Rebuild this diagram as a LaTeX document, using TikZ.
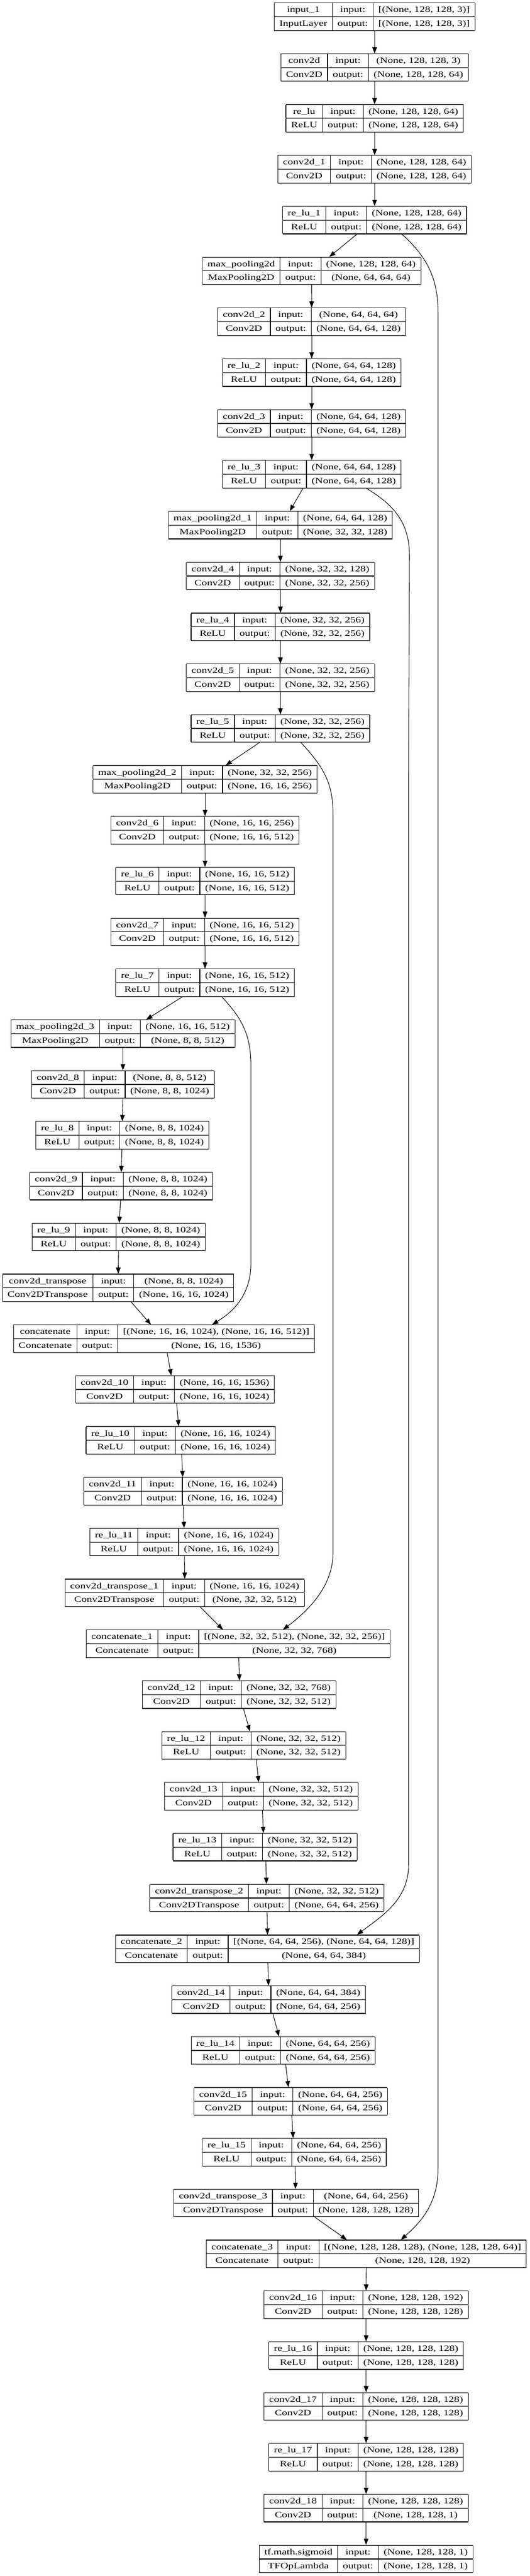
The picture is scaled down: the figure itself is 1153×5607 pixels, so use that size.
\documentclass[tikz,border=0pt]{standalone}
\usepackage{fontspec}
\setmainfont{Liberation Serif}[FakeStretch=1.315]
\usetikzlibrary{arrows.meta}
\setlength{\tabcolsep}{11.3pt}
\setlength{\arrayrulewidth}{1.33pt}
\renewcommand{\arraystretch}{0}
\newcommand{\rstrut}{\rule[-9.05pt]{0pt}{28.65pt}}
\newcommand{\rec}[7]{\node[recbox] (#1) at (#2,{36.35+110.67*#3}) {\begin{tabular}{|c|c|c|}\hline\rstrut #4 & input: & #6\\\hline\rstrut #5 & output: & #7\\\hline\end{tabular}};}
\newcommand{\edgeab}[4]{\draw[arr] ([xshift=#2pt]#1.south) -- ([xshift=#4pt]#3.north);}
\begin{document}
\begin{tikzpicture}[x=1pt,y=-1pt,
  recbox/.style={inner sep=0pt, outer sep=0pt, font=\fontsize{17.8}{20}\selectfont},
  arr/.style={line width=1.2pt, -{Triangle[length=13.5pt,width=10pt]}}]
\fill[white] (0,0) rectangle (1153,5607);
\useasboundingbox (0,0) rectangle (1153,5607);
\rec{n0}{815.6}{0}{input\_1}{InputLayer}{[(None, 128, 128, 3)]}{[(None, 128, 128, 3)]}
\rec{n1}{815.6}{1}{conv2d}{Conv2D}{(None, 128, 128, 3)}{(None, 128, 128, 64)}
\rec{n2}{815.6}{2}{re\_lu}{ReLU}{(None, 128, 128, 64)}{(None, 128, 128, 64)}
\rec{n3}{815.6}{3}{conv2d\_1}{Conv2D}{(None, 128, 128, 64)}{(None, 128, 128, 64)}
\rec{n4}{815.6}{4}{re\_lu\_1}{ReLU}{(None, 128, 128, 64)}{(None, 128, 128, 64)}
\rec{n5}{678.4}{5}{max\_pooling2d}{MaxPooling2D}{(None, 128, 128, 64)}{(None, 64, 64, 64)}
\rec{n6}{678.6}{6}{conv2d\_2}{Conv2D}{(None, 64, 64, 64)}{(None, 64, 64, 128)}
\rec{n7}{678.6}{7}{re\_lu\_2}{ReLU}{(None, 64, 64, 128)}{(None, 64, 64, 128)}
\rec{n8}{678.6}{8}{conv2d\_3}{Conv2D}{(None, 64, 64, 128)}{(None, 64, 64, 128)}
\rec{n9}{678.6}{9}{re\_lu\_3}{ReLU}{(None, 64, 64, 128)}{(None, 64, 64, 128)}
\rec{n10}{610.4}{10}{max\_pooling2d\_1}{MaxPooling2D}{(None, 64, 64, 128)}{(None, 32, 32, 128)}
\rec{n11}{610.6}{11}{conv2d\_4}{Conv2D}{(None, 32, 32, 128)}{(None, 32, 32, 256)}
\rec{n12}{610.6}{12}{re\_lu\_4}{ReLU}{(None, 32, 32, 256)}{(None, 32, 32, 256)}
\rec{n13}{610.6}{13}{conv2d\_5}{Conv2D}{(None, 32, 32, 256)}{(None, 32, 32, 256)}
\rec{n14}{610.6}{14}{re\_lu\_5}{ReLU}{(None, 32, 32, 256)}{(None, 32, 32, 256)}
\rec{n15}{446.4}{15}{max\_pooling2d\_2}{MaxPooling2D}{(None, 32, 32, 256)}{(None, 16, 16, 256)}
\rec{n16}{446.4}{16}{conv2d\_6}{Conv2D}{(None, 16, 16, 256)}{(None, 16, 16, 512)}
\rec{n17}{446.6}{17}{re\_lu\_6}{ReLU}{(None, 16, 16, 512)}{(None, 16, 16, 512)}
\rec{n18}{446.4}{18}{conv2d\_7}{Conv2D}{(None, 16, 16, 512)}{(None, 16, 16, 512)}
\rec{n19}{446.6}{19}{re\_lu\_7}{ReLU}{(None, 16, 16, 512)}{(None, 16, 16, 512)}
\rec{n20}{267.6}{20}{max\_pooling2d\_3}{MaxPooling2D}{(None, 16, 16, 512)}{(None, 8, 8, 512)}
\rec{n21}{267.6}{21}{conv2d\_8}{Conv2D}{(None, 8, 8, 512)}{(None, 8, 8, 1024)}
\rec{n22}{266.5}{22}{re\_lu\_8}{ReLU}{(None, 8, 8, 1024)}{(None, 8, 8, 1024)}
\rec{n23}{263.6}{23}{conv2d\_9}{Conv2D}{(None, 8, 8, 1024)}{(None, 8, 8, 1024)}
\rec{n24}{258.5}{24}{re\_lu\_9}{ReLU}{(None, 8, 8, 1024)}{(None, 8, 8, 1024)}
\rec{n25}{257}{25}{conv2d\_transpose}{Conv2DTranspose}{(None, 8, 8, 1024)}{(None, 16, 16, 1024)}
\rec{n26}{357}{26}{concatenate}{Concatenate}{[(None, 16, 16, 1024), (None, 16, 16, 512)]}{(None, 16, 16, 1536)}
\rec{n27}{380.9}{27}{conv2d\_10}{Conv2D}{(None, 16, 16, 1536)}{(None, 16, 16, 1024)}
\rec{n28}{393.4}{28}{re\_lu\_10}{ReLU}{(None, 16, 16, 1024)}{(None, 16, 16, 1024)}
\rec{n29}{398.5}{29}{conv2d\_11}{Conv2D}{(None, 16, 16, 1024)}{(None, 16, 16, 1024)}
\rec{n30}{401.1}{30}{re\_lu\_11}{ReLU}{(None, 16, 16, 1024)}{(None, 16, 16, 1024)}
\rec{n31}{402.2}{31}{conv2d\_transpose\_1}{Conv2DTranspose}{(None, 16, 16, 1024)}{(None, 32, 32, 512)}
\rec{n32}{518.4}{32}{concatenate\_1}{Concatenate}{[(None, 32, 32, 512), (None, 32, 32, 256)]}{(None, 32, 32, 768)}
\rec{n33}{520.6}{33}{conv2d\_12}{Conv2D}{(None, 32, 32, 768)}{(None, 32, 32, 512)}
\rec{n34}{552.6}{34}{re\_lu\_12}{ReLU}{(None, 32, 32, 512)}{(None, 32, 32, 512)}
\rec{n35}{568.8}{35}{conv2d\_13}{Conv2D}{(None, 32, 32, 512)}{(None, 32, 32, 512)}
\rec{n36}{577.2}{36}{re\_lu\_13}{ReLU}{(None, 32, 32, 512)}{(None, 32, 32, 512)}
\rec{n37}{580.9}{37}{conv2d\_transpose\_2}{Conv2DTranspose}{(None, 32, 32, 512)}{(None, 64, 64, 256)}
\rec{n38}{582.4}{38}{concatenate\_2}{Concatenate}{[(None, 64, 64, 256), (None, 64, 64, 128)]}{(None, 64, 64, 384)}
\rec{n39}{585}{39}{conv2d\_14}{Conv2D}{(None, 64, 64, 384)}{(None, 64, 64, 256)}
\rec{n40}{616.5}{40}{re\_lu\_14}{ReLU}{(None, 64, 64, 256)}{(None, 64, 64, 256)}
\rec{n41}{633.1}{41}{conv2d\_15}{Conv2D}{(None, 64, 64, 256)}{(None, 64, 64, 256)}
\rec{n42}{640.8}{42}{re\_lu\_15}{ReLU}{(None, 64, 64, 256)}{(None, 64, 64, 256)}
\rec{n43}{644.9}{43}{conv2d\_transpose\_3}{Conv2DTranspose}{(None, 64, 64, 256)}{(None, 128, 128, 128)}
\rec{n44}{797.4}{44}{concatenate\_3}{Concatenate}{[(None, 128, 128, 128), (None, 128, 128, 64)]}{(None, 128, 128, 192)}
\rec{n45}{797.1}{45}{conv2d\_16}{Conv2D}{(None, 128, 128, 192)}{(None, 128, 128, 128)}
\rec{n46}{797.1}{46}{re\_lu\_16}{ReLU}{(None, 128, 128, 128)}{(None, 128, 128, 128)}
\rec{n47}{797.1}{47}{conv2d\_17}{Conv2D}{(None, 128, 128, 128)}{(None, 128, 128, 128)}
\rec{n48}{797.1}{48}{re\_lu\_17}{ReLU}{(None, 128, 128, 128)}{(None, 128, 128, 128)}
\rec{n49}{797.1}{49}{conv2d\_18}{Conv2D}{(None, 128, 128, 128)}{(None, 128, 128, 1)}
\rec{n50}{797.1}{50}{tf.math.sigmoid}{TFOpLambda}{(None, 128, 128, 1)}{(None, 128, 128, 1)}
% main chain
\edgeab{n0}{0}{n1}{0}
\edgeab{n1}{0}{n2}{0}
\edgeab{n2}{0}{n3}{0}
\edgeab{n3}{0}{n4}{0}
\edgeab{n4}{-38.4}{n5}{38.6}
\edgeab{n5}{0}{n6}{0}
\edgeab{n6}{0}{n7}{0}
\edgeab{n7}{0}{n8}{0}
\edgeab{n8}{0}{n9}{0}
\edgeab{n9}{-19}{n10}{20.5}
\edgeab{n10}{0}{n11}{0}
\edgeab{n11}{0}{n12}{0}
\edgeab{n12}{0}{n13}{0}
\edgeab{n13}{0}{n14}{0}
\edgeab{n14}{-45.9}{n15}{45.1}
\edgeab{n15}{0}{n16}{0}
\edgeab{n16}{0}{n17}{-0.2}
\edgeab{n17}{-0.2}{n18}{0}
\edgeab{n18}{0}{n19}{-0.2}
\edgeab{n19}{-49.6}{n20}{50.8}
\edgeab{n20}{0}{n21}{0}
\edgeab{n21}{0}{n22}{-0.3}
\edgeab{n22}{-1.1}{n23}{0.4}
\edgeab{n23}{-1.1}{n24}{1.1}
\edgeab{n24}{-0.4}{n25}{0.4}
\edgeab{n25}{28.3}{n26}{-28.3}
\edgeab{n26}{7}{n27}{-8.1}
\edgeab{n27}{3.7}{n28}{-4.4}
\edgeab{n28}{2.2}{n29}{-0.7}
\edgeab{n29}{0.8}{n30}{-0.4}
\edgeab{n30}{0.4}{n31}{0}
\edgeab{n31}{33.8}{n32}{-33.1}
\edgeab{n32}{1.5}{n33}{0.7}
\edgeab{n33}{9.5}{n34}{-8.5}
\edgeab{n34}{5.5}{n35}{-5.6}
\edgeab{n35}{2.5}{n36}{-3.7}
\edgeab{n36}{1.5}{n37}{-0.8}
\edgeab{n37}{0.7}{n38}{0}
\edgeab{n38}{0.7}{n39}{-0.4}
\edgeab{n39}{9.1}{n40}{-9.1}
\edgeab{n40}{5.5}{n41}{-5.2}
\edgeab{n41}{2.2}{n42}{-2.6}
\edgeab{n42}{1.8}{n43}{-1.5}
\edgeab{n43}{40.4}{n44}{-42.3}
\edgeab{n44}{0}{n45}{0}
\edgeab{n45}{0}{n46}{0}
\edgeab{n46}{0}{n47}{0}
\edgeab{n47}{0}{n48}{0}
\edgeab{n48}{0}{n49}{0}
\edgeab{n49}{0}{n50}{0}
% skip connections
\draw[arr] ([xshift=59.4pt]n4.south) .. controls (925,555) and (953.7,600) .. (953.7,680) -- (953.7,4720) .. controls (953.7,4800) and (912,4840) .. ([xshift=75.4pt]n44.north);
\draw[arr] ([xshift=119.2pt]n9.south) .. controls (860,1100) and (891.5,1140) .. (891.5,1210) -- (889.5,1700) -- (889.5,4060) .. controls (889.5,4135) and (830,4172) .. ([xshift=194.8pt]n38.north);
\draw[arr] ([xshift=44.7pt]n14.south) .. controls (700,1665) and (725,1700) .. (725,1770) -- (725,3380) .. controls (725,3455) and (668,3508) .. ([xshift=97.8pt]n32.north);
\draw[arr] ([xshift=36.4pt]n19.south) .. controls (525,2215) and (546.3,2250) .. (546.3,2320) -- (546.3,2750) .. controls (546.3,2822) and (503,2858) .. ([xshift=104.8pt]n26.north);
\end{tikzpicture}
\end{document}
